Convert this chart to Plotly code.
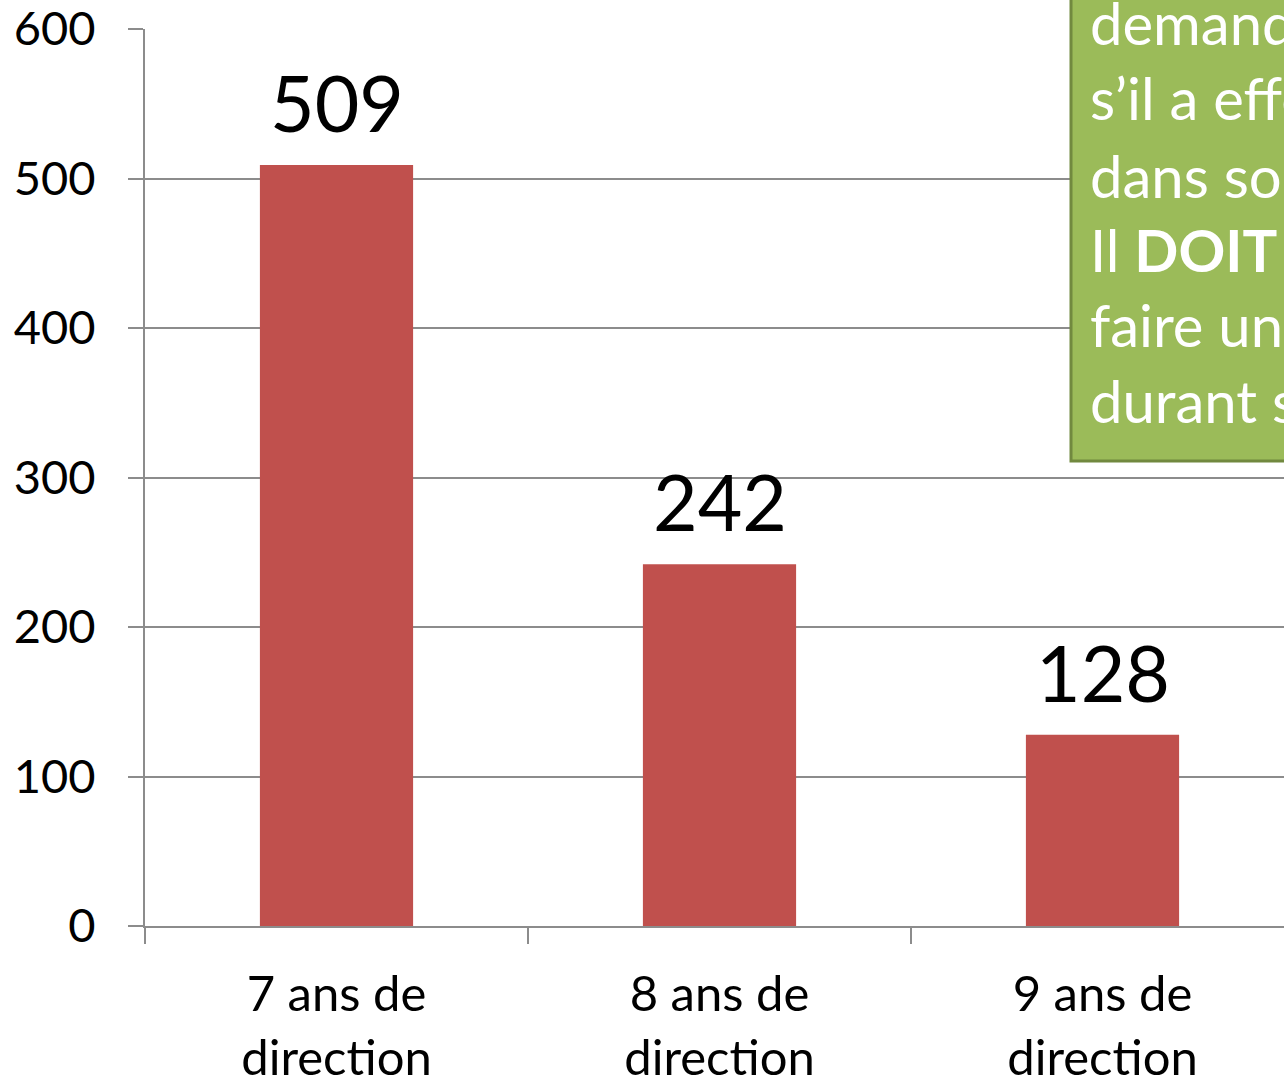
import plotly.graph_objects as go

categories = ["7 ans de<br>direction", "8 ans de<br>direction", "9 ans de<br>direction"]
values = [509, 242, 128]
y_ticks = [0, 100, 200, 300, 400, 500, 600]
note_lines = ["demande", "s’il a effectué", "dans son", "Il <b>DOIT</b>", "faire une", "durant son"]

FONT = "Lato"
W, H = 1284, 1079
PLOT_L, PLOT_T, PLOT_B = 145, 29, 926
L, T, B = PLOT_L, PLOT_T, H - PLOT_B
plot_w = W - L
plot_h = H - T - B
cat_px = 383.0
x_right = plot_w / cat_px - 0.5

fig = go.Figure()
fig.add_trace(go.Bar(
    x=list(range(len(categories))), y=values,
    marker=dict(color="#C0504D", line=dict(width=0)),
    width=0.4, hoverinfo="skip",
))

for i, v in enumerate(values):
    fig.add_annotation(x=i, y=v, text=str(v), showarrow=False, xref="x", yref="y",
                       yanchor="bottom", yshift=15,
                       font=dict(family=FONT, size=77, color="black"))

def py(p):
    return (PLOT_B - p) / plot_h
def px(p):
    return (p - PLOT_L) / plot_w

fig.add_shape(type="rect", xref="paper", yref="paper",
              x0=px(1071), x1=px(1400), y0=py(461), y1=py(-50),
              fillcolor="#9BBB59", line=dict(color="#71893F", width=3), layer="above")

baselines = [45, 120, 198, 272, 347, 423]
for line, b in zip(note_lines, baselines):
    fig.add_annotation(xref="paper", yref="paper", x=px(1088), y=py(b + 14),
                       xanchor="left", yanchor="bottom", text=line, showarrow=False,
                       align="left", font=dict(family=FONT, size=58, color="white"))

fig.update_layout(
    width=W, height=H,
    margin=dict(l=L, r=0, t=T, b=B, pad=0, autoexpand=False),
    paper_bgcolor="white", plot_bgcolor="white",
    showlegend=False,
    xaxis=dict(
        type="linear",
        range=[-0.5, x_right],
        tickmode="array",
        tickvals=list(range(len(categories))),
        ticktext=categories,
        showgrid=False,
        showline=True, linecolor="#8C8C8C", linewidth=2,
        ticks="", zeroline=False, automargin=False,
        tickfont=dict(family=FONT, size=49, color="black"),
        ticklabelstandoff=24, ticklabeloverflow="allow",
    ),
    yaxis=dict(
        range=[0, 600],
        tickvals=y_ticks,
        showgrid=True, gridcolor="#8C8C8C", gridwidth=1.5,
        showline=True, linecolor="#8C8C8C", linewidth=2,
        ticks="outside", ticklen=15, tickcolor="#8C8C8C", tickwidth=2,
        zeroline=False, automargin=False,
        tickfont=dict(family=FONT, size=47, color="black"),
        ticklabelstandoff=23, ticklabeloverflow="allow",
    ),
)

fig.update_xaxes(minor=dict(tickvals=[-0.5, 0.5, 1.5, 2.5], ticks="outside", ticklen=16,
                            tickcolor="#8C8C8C", tickwidth=2, showgrid=False))

fig.write_html("out.html", config={"displayModeBar": False, "responsive": False},
               post_script="document.documentElement.style.overflow='hidden';"
                           "document.body.style.margin='0';document.body.style.overflow='hidden';")
